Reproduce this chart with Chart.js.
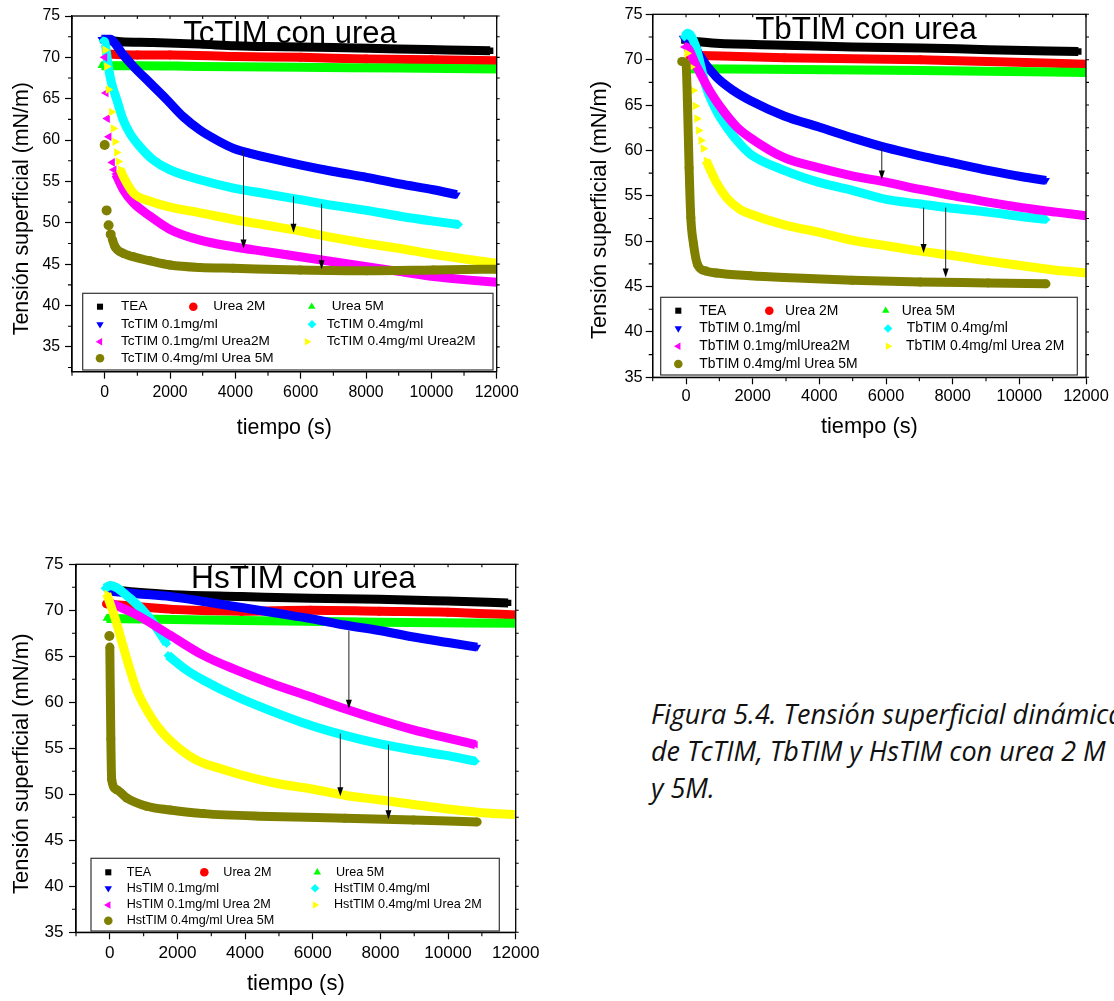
<!DOCTYPE html>
<html lang="es">
<head>
<meta charset="utf-8">
<title>Tensión superficial dinámica</title>
<script src="https://cdn.jsdelivr.net/npm/chart.js@4.4.0/dist/chart.umd.min.js"></script>
<style>
  html, body { margin: 0; padding: 0; background: #fff; }
  body { width: 1114px; height: 1001px; position: relative; overflow: hidden; }
  canvas { position: absolute; }
  #caption { position: absolute; left: 651px; top: 695px; font-family: "Open Sans", sans-serif; font-style: italic;
             font-size: 27px; line-height: 37px; white-space: nowrap; color: #111; }
</style>
</head>
<body>
<canvas id="tcChart" width="560" height="450" style="left:0;top:0"></canvas>
<canvas id="tbChart" width="554" height="450" style="left:560px;top:0"></canvas>
<canvas id="hsChart" width="560" height="461" style="left:0;top:540px"></canvas>
<div id="caption">Figura 5.4. Tensión superficial dinámica<br>de TcTIM, TbTIM y HsTIM con urea 2 M<br>y 5M.</div>
<script>
// [tiempo (s), tension (mN/m)]
const timeTicks = [0, 2000, 4000, 6000, 8000, 10000, 12000];
const tensionTicks = [35, 40, 45, 50, 55, 60, 65, 70, 75];

// --- TcTIM con urea
const tcLabels = ['TEA', 'Urea 2M', 'Urea 5M', 'TcTIM 0.1mg/ml', 'TcTIM 0.4mg/ml',
                  'TcTIM 0.1mg/ml Urea2M', 'TcTIM 0.4mg/ml Urea2M', 'TcTIM 0.4mg/ml Urea 5M'];
const tcTEA = [[-50,72.1],[500,71.9],[1400,71.8],[2900,71.6],[4000,71.4],[5000,71.3],[7000,71.2],[9000,71.0],[10500,70.9],[11800,70.8]];
const tcUrea2 = [[100,70.4],[1000,70.3],[2000,70.3],[4000,70.1],[6000,70.0],[8000,69.8],[10000,69.7],[12000,69.6]];
const tcUrea5 = [[-100,69.0],[1000,69.0],[3000,68.9],[6000,68.8],[9000,68.7],[12000,68.6]];
const tc01 = [[-100,72.2],[180,72.2],[350,71.5],[570,70.3],[880,68.9],[1390,66.9],[1900,64.9],[2410,62.8],[2920,61.2],[3430,60.0],
              [3940,59.0],[4450,58.4],[4960,57.9],[5980,57.0],[7000,56.2],[8020,55.5],[9040,54.7],[10060,54.0],[10780,53.4]];
const tc04 = [[-50,72.0],[0,71.9],[110,68.9],[210,66.9],[370,64.9],[570,62.4],[775,60.8],[1080,59.2],[1490,57.6],[2000,56.4],
              [2920,55.2],[3940,54.2],[4960,53.5],[5980,52.8],[7000,52.1],[8020,51.5],[9040,50.8],[10060,50.2],[10830,49.8]];
const tc01U2Start = [[0,70.0],[40,65.7],[80,62.6],[130,60.4],[235,57.3],[285,56.4]];
const tc01U2 = [[340,55.9],[570,54.0],[880,52.4],[1390,50.8],[2000,49.2],[2920,47.9],[3940,47.1],[4960,46.5],[5980,45.9],
                [7000,45.3],[8020,44.7],[9040,44.1],[10060,43.5],[11080,43.1],[12000,42.8]];
const tc04U2Start = [[10,70.9],[60,68.9],[110,66.1],[210,63.4],[265,61.4],[316,59.8],[367,58.5],[418,57.4]];
const tc04U2 = [[470,56.5],[570,55.6],[880,53.6],[1390,52.6],[2000,51.9],[2920,51.2],[3940,50.4],[4960,49.7],[5980,49.0],
                [7000,48.2],[8020,47.5],[9040,46.9],[10060,46.2],[11080,45.6],[12000,45.1]];
const tc04U5Start = [[0,59.4],[60,51.5],[120,49.7],[185,48.6]];
const tc04U5 = [[235,48.0],[316,47.1],[570,46.3],[880,45.9],[1390,45.4],[2000,44.9],[2920,44.6],[3940,44.5],[5980,44.3],
                [8020,44.2],[10060,44.3],[12000,44.4]];
const tcArrows = [[4250,58.8,46.9],[5780,53.2,48.8],[6640,52.3,44.4]];   // [t, from, to]

// --- TbTIM con urea
const tbLabels = ['TEA', 'Urea 2M', 'Urea 5M', 'TbTIM 0.1mg/ml', 'TbTIM 0.4mg/ml',
                  'TbTIM 0.1mg/mlUrea2M', 'TbTIM 0.4mg/ml Urea 2M', 'TbTIM 0.4mg/ml Urea 5M'];
const tbTEA = [[-50,72.1],[900,71.8],[2950,71.6],[4990,71.4],[7030,71.3],[9060,71.1],[11770,70.9]];
const tbUrea2 = [[100,70.5],[2950,70.2],[7030,70.0],[9060,69.8],[12000,69.5]];
const tbUrea5 = [[100,69.0],[7030,68.8],[12000,68.6]];
const tb01 = [[-100,72.4],[150,72.3],[398,70.5],[907,68.1],[1417,66.6],[1927,65.5],[2946,63.8],[3966,62.6],[4986,61.4],
              [6005,60.3],[7025,59.4],[8044,58.6],[9064,57.8],[10084,57.1],[10800,56.7]];
const tb04 = [[-50,72.5],[50,72.9],[296,71.4],[449,69.2],[602,67.0],[907,64.4],[1213,62.6],[1621,60.7],[1927,59.6],[2946,57.8],
              [3966,56.5],[4986,55.6],[6005,54.6],[7025,54.1],[8044,53.6],[9064,53.2],[10084,52.7],[10800,52.4]];
const tb01U2 = [[-50,71.4],[0,71.4],[296,69.4],[703,66.6],[1111,64.4],[1519,62.6],[1927,61.4],[2946,59.2],[3966,58.1],[4986,57.2],
                [6005,56.5],[7025,55.7],[8044,55.0],[9064,54.3],[10084,53.7],[11103,53.2],[12000,52.8]];
const tb04U2Start = [[30,70.7],[143,69.2],[214,66.6],[275,64.9],[326,63.5],[377,62.2],[449,61.1],[520,60.2]];
const tb04U2 = [[602,58.9],[907,56.5],[1213,54.8],[1621,53.5],[1927,53.0],[2946,51.8],[3966,51.0],[4986,50.1],[6005,49.5],
                [7025,48.9],[8044,48.4],[9064,47.8],[10084,47.3],[11103,46.8],[12000,46.5]];
const tb04U5 = [[-130,69.8],[0,69.5],[41,65.5],[92,58.1],[143,52.6],[224,49.7],[347,47.4],[602,46.7],[907,46.5],[1927,46.2],
                [2946,46.0],[4986,45.7],[7025,45.5],[9064,45.4],[10800,45.3]];
const tbArrows = [[5873,60.3,56.8],[7127,53.7,48.7],[7790,53.7,46.0]];

// --- HsTIM con urea
const hsLabels = ['TEA', 'Urea 2M', 'Urea 5M', 'HsTIM 0.1mg/ml', 'HstTIM 0.4mg/ml',
                  'HsTIM 0.1mg/ml Urea 2M', 'HstTIM 0.4mg/ml Urea 2M', 'HstTIM 0.4mg/ml Urea 5M'];
const hsTEA = [[0,72.2],[1861,71.7],[3895,71.5],[5929,71.3],[7963,71.2],[9997,71.0],[11777,70.8]];
const hsUrea2 = [[-100,70.7],[1861,70.1],[3895,69.9],[5929,70.0],[7963,69.9],[9997,69.8],[12000,69.5]];
const hsUrea5 = [[-100,69.1],[3895,68.9],[7963,68.7],[12000,68.6]];
const hs01 = [[0,72.1],[795,71.8],[1780,71.5],[2878,70.9],[3895,70.3],[4912,69.7],[5929,69.1],[6946,68.4],[7963,67.8],
              [8980,67.1],[9997,66.5],[10861,66.0]];
// the 0.4mg/ml record has a break near 1700 s
const hs04 = [[-140,72.4],[0,72.7],[600,71.3],[1190,69.1],[1680,66.4],[1700,null],[1720,65.1],[2270,63.5],[2770,62.4],[3750,60.6],
              [4740,59.1],[5929,57.5],[6946,56.4],[7963,55.5],[8980,54.8],[9997,54.2],[10810,53.6]];
const hs01U2 = [[-44,70.9],[795,69.5],[1780,67.3],[2765,65.1],[3752,63.5],[4737,62.1],[5929,60.6],[6946,59.3],[7963,58.1],
                [8980,57.0],[9997,56.1],[10810,55.4]];
const hs04U2 = [[-90,71.8],[200,68.6],[400,66.0],[600,63.5],[800,61.3],[1090,59.2],[1490,57.0],[1980,55.2],[2570,53.7],[3260,52.8],
                [3895,52.1],[4912,51.2],[5929,50.6],[6946,49.9],[7963,49.4],[8980,48.9],[9997,48.4],[11014,48.0],[12000,47.8]];
const hs04U5Start = [[-14,67.2]];
const hs04U5 = [[0,66.0],[30,56.0],[55,51.6],[204,50.5],[500,49.6],[1091,48.7],[1780,48.3],[2765,47.9],[4737,47.6],
                [6946,47.4],[8980,47.2],[10861,47.0]];
const hsArrows = [[7068,67.8,59.3],[6814,56.6,49.8],[8238,55.4,47.3]];

const FONT = '"Liberation Sans", Arial, Helvetica, sans-serif';
Chart.defaults.font.family = FONT;

// marker / colour per series position (same in the three panels)
const STYLES = [
  { color: '#000000', style: 'rect',     rot: 0 },
  { color: '#ff0000', style: 'circle',   rot: 0 },
  { color: '#00ff00', style: 'triangle', rot: 0 },
  { color: '#0000ff', style: 'triangle', rot: 180 },
  { color: '#00ffff', style: 'rectRot',  rot: 0 },
  { color: '#ff00ff', style: 'triangle', rot: -90 },
  { color: '#ffff00', style: 'triangle', rot: 90 },
  { color: '#808000', style: 'circle',   rot: 0 }
];

function toXY(pts) {
  return pts.map(p => ({ x: p[0], y: p[1] }));
}

function buildDatasets(labels, series, starts) {
  const out = [];
  series.forEach((pts, i) => {
    const s = STYLES[i];
    const base = {
      pointStyle: s.style, pointRotation: s.rot, pointRadius: 4.5, pointHoverRadius: 4.5, pointBorderWidth: 0,
      backgroundColor: s.color, borderColor: s.color, order: 20 - i, clip: 0
    };
    out.push(Object.assign({ label: labels[i], data: toXY(pts), showLine: true, borderWidth: 9, spanGaps: false,
                             cubicInterpolationMode: 'monotone' }, base));
    if (starts[i]) {
      // first readings are spread apart, only markers
      out.push(Object.assign({ label: labels[i], data: toXY(starts[i]), showLine: false }, base,
                             { pointRadius: 5, pointHoverRadius: 5 }));
    }
  });
  return out;
}

function decorPlugin(cfg) {
  return {
    id: 'decor',
    afterDatasetsDraw(chart) {
      const { ctx, scales: { x, y } } = chart;
      ctx.save();
      ctx.strokeStyle = '#222';
      ctx.fillStyle = '#000';
      ctx.lineWidth = 1;
      cfg.arrows.forEach(a => {
        const px = x.getPixelForValue(a[0]);
        const p0 = y.getPixelForValue(a[1]);
        const p1 = y.getPixelForValue(a[2]);
        ctx.beginPath();
        ctx.moveTo(px, p0);
        ctx.lineTo(px, p1 - 6);
        ctx.stroke();
        ctx.beginPath();
        ctx.moveTo(px, p1);
        ctx.lineTo(px - 3, p1 - 9);
        ctx.lineTo(px + 3, p1 - 9);
        ctx.closePath();
        ctx.fill();
      });
      ctx.restore();
    },
    afterDraw(chart) {
      const { ctx, chartArea: a, scales: { x, y } } = chart;
      ctx.save();
      // frame
      ctx.strokeStyle = '#000';
      ctx.lineWidth = 1.3;
      ctx.strokeRect(a.left, a.top, a.right - a.left, a.bottom - a.top);
      // minor ticks + mirrored ticks on top / right
      ctx.lineWidth = 1.1;
      ctx.beginPath();
      for (let v = Math.ceil(y.min / 2.5) * 2.5; v <= y.max; v += 2.5) {
        const py = y.getPixelForValue(v);
        if (v % 5 !== 0) { ctx.moveTo(a.left - 4, py); ctx.lineTo(a.left, py); }
        ctx.moveTo(a.right, py); ctx.lineTo(a.right + 3, py);
      }
      for (let t = -1000; t <= 12000; t += 1000) {
        const px = x.getPixelForValue(t);
        if (t % 2000 !== 0) { ctx.moveTo(px, a.bottom); ctx.lineTo(px, a.bottom + 4); }
        ctx.moveTo(px, a.top); ctx.lineTo(px, a.top + 3);
      }
      ctx.stroke();

      // panel title inside the plot
      ctx.fillStyle = '#000';
      ctx.textAlign = 'center';
      ctx.textBaseline = 'alphabetic';
      ctx.font = cfg.titleSize + 'px ' + FONT;
      ctx.fillText(cfg.title, (a.left + a.right) / 2 + cfg.titleDx, a.top + cfg.titleDy);

      // axis titles
      ctx.textBaseline = 'middle';
      ctx.font = cfg.axisSize + 'px ' + FONT;
      ctx.fillText('tiempo (s)', (a.left + a.right) / 2, a.bottom + cfg.xTitleDy);
      ctx.save();
      ctx.translate(a.left - cfg.yTitleDx, (a.top + a.bottom) / 2 + cfg.yTitleDy);
      ctx.rotate(-Math.PI / 2);
      ctx.fillText('Tensión superficial (mN/m)', 0, 0);
      ctx.restore();

      // legend box
      const L = cfg.legend;
      const bx0 = a.left + L.box[0], by0 = a.top + L.box[1];
      const bx1 = a.right - L.box[2], by1 = a.bottom - L.box[3];
      ctx.fillStyle = '#fff';
      ctx.fillRect(bx0, by0, bx1 - bx0, by1 - by0);
      ctx.strokeStyle = '#333';
      ctx.lineWidth = 1.2;
      ctx.strokeRect(bx0, by0, bx1 - bx0, by1 - by0);
      ctx.font = L.size + 'px ' + FONT;
      ctx.textAlign = 'left';
      ctx.textBaseline = 'middle';
      L.items.forEach(it => {
        const s = STYLES[it[0]];
        const yy = by0 + L.rows[it[3]];
        ctx.fillStyle = s.color;
        Chart.helpers.drawPoint(ctx, { pointStyle: s.style, rotation: s.rot, radius: 4.3, borderWidth: 0 }, bx0 + it[1], yy);
        ctx.fillStyle = '#000';
        ctx.fillText(cfg.labels[it[0]], bx0 + it[2], yy);
      });
      ctx.restore();
    }
  };
}

function makeChart(id, cfg) {
  const axisLine = { display: true, color: '#000', width: 1.3 };
  const tickGrid = { display: true, drawOnChartArea: false, drawTicks: true, tickLength: 7, tickColor: '#000', tickWidth: 1.2 };
  return new Chart(document.getElementById(id), {
    type: 'scatter',
    data: { datasets: buildDatasets(cfg.labels, cfg.series, cfg.starts) },
    options: {
      responsive: false,
      animation: false,
      layout: { padding: { left: 0, top: cfg.padTop, right: cfg.padRight, bottom: 0 } },
      plugins: { legend: { display: false }, tooltip: { enabled: false } },
      scales: {
        x: {
          type: 'linear', min: -1000, max: 12000,
          border: axisLine, grid: tickGrid,
          ticks: { autoSkip: false, maxRotation: 0, padding: cfg.xPad, color: '#000',
                   font: { size: cfg.tickSize }, callback: v => String(v) },
          afterBuildTicks: s => { s.ticks = timeTicks.map(v => ({ value: v })); },
          afterFit: s => { s.height = cfg.xH; s.paddingLeft = 0; s.paddingRight = 0; }
        },
        y: {
          type: 'linear', min: cfg.yMin, max: 75,
          border: axisLine, grid: tickGrid,
          ticks: { autoSkip: false, padding: cfg.yPad, color: '#000',
                   font: { size: cfg.tickSize }, callback: v => String(v) },
          afterBuildTicks: s => { s.ticks = tensionTicks.map(v => ({ value: v })); },
          afterFit: s => { s.width = cfg.yW; s.paddingTop = 0; s.paddingBottom = 0; }
        }
      }
    },
    plugins: [decorPlugin(cfg)]
  });
}

makeChart('tcChart', {
  labels: tcLabels,
  series: [tcTEA, tcUrea2, tcUrea5, tc01, tc04, tc01U2, tc04U2, tc04U5],
  starts: [null, null, null, null, null, tc01U2Start, tc04U2Start, tc04U5Start],
  arrows: tcArrows,
  yMin: 32, yW: 72, xH: 78.3, padTop: 16, padRight: 63.3, xPad: 4, yPad: 5, tickSize: 15.8,
  title: 'TcTIM con urea', titleSize: 31, titleDx: 5.6, titleDy: 26.7,
  axisSize: 21.4, xTitleDy: 56.6, yTitleDx: 50.3, yTitleDy: 14.8,
  legend: {
    box: [10.7, 277.3, 3.7, 1.7], rows: [13.4, 31, 48.4, 65], size: 13.6,
    items: [[0,17.3,38.3,0],[1,110.6,130.6,0],[2,229,249,0],[3,17.3,38.3,1],[4,229.3,244,1],
            [5,17.3,38.3,2],[6,224.3,244,2],[7,17.3,38.3,3]]
  }
});

makeChart('tbChart', {
  labels: tbLabels,
  series: [tbTEA, tbUrea2, tbUrea5, tb01, tb04, tb01U2, tb04U2, tb04U5],
  starts: [null, null, null, null, null, null, tb04U2Start, null],
  arrows: tbArrows,
  yMin: 35, yW: 92.7, xH: 72.7, padTop: 14.3, padRight: 28, xPad: 2, yPad: 3, tickSize: 16.4,
  title: 'TbTIM con urea', titleSize: 31.4, titleDx: -3.4, titleDy: 25,
  axisSize: 21.8, xTitleDy: 49.4, yTitleDx: 52.3, yTitleDy: 14.2,
  legend: {
    box: [8, 283, 8.7, 2.3], rows: [13.4, 31.2, 49, 66.7], size: 13.9,
    items: [[0,17.6,38.6,0],[1,108.6,124.3,0],[2,225,241,0],[3,17.6,38.6,1],[4,227.3,246,1],
            [5,17.6,38.6,2],[6,227.3,245.3,2],[7,17.6,38.6,3]]
  }
});

makeChart('hsChart', {
  labels: hsLabels,
  series: [hsTEA, hsUrea2, hsUrea5, hs01, hs04, hs01U2, hs04U2, hs04U5],
  starts: [null, null, null, null, null, null, null, hs04U5Start],
  arrows: hsArrows,
  yMin: 35, yW: 76, xH: 68.7, padTop: 24.3, padRight: 44.3, xPad: 4, yPad: 5.4, tickSize: 17.1,
  title: 'HsTIM con urea', titleSize: 31.6, titleDx: 7.6, titleDy: 24,
  axisSize: 22, xTitleDy: 51.3, yTitleDx: 53.7, yTitleDy: 15.4,
  legend: {
    box: [15, 294, 16.4, 1.3], rows: [14, 30, 46.7, 62.4], size: 12.6,
    items: [[0,17.3,35.7,0],[1,113.3,132.3,0],[2,226.3,245,0],[3,17.3,35.7,1],[4,224,243,1],
            [5,17.3,35.7,2],[6,224,243,2],[7,17.3,35.7,3]]
  }
});
</script>
</body>
</html>
